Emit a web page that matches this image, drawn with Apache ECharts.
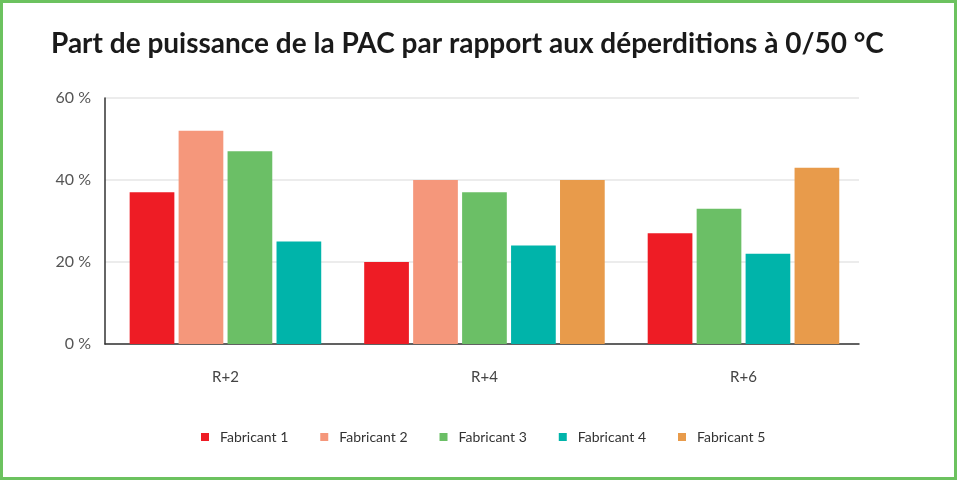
<!DOCTYPE html>
<html>
<head>
<meta charset="utf-8">
<script src="https://cdn.jsdelivr.net/npm/echarts@6/dist/echarts.min.js"></script>
<style>
html,body{margin:0;padding:0;background:#fff;}
#chart{width:957px;height:480px;}
</style>
</head>
<body>
<div id="chart"></div>
<script>
// ---- data ----
const categories = ['R+2', 'R+4', 'R+6'];
const seriesNames = ['Fabricant 1', 'Fabricant 2', 'Fabricant 3', 'Fabricant 4', 'Fabricant 5'];
const fabricant1 = [37, 20, 27];
const fabricant2 = [52, 40, null];
const fabricant3 = [47, 37, 33];
const fabricant4 = [25, 24, 22];
const fabricant5 = [null, 40, 43];
const yTicks = [0, 20, 40, 60];
const colors = ['#ee1c25', '#f5977b', '#6bbf66', '#00b4aa', '#e89b4b'];

const allValues = [fabricant1, fabricant2, fabricant3, fabricant4, fabricant5];

// slot of each bar inside its group (only present bars take a slot)
function slotInfo(seriesIdx, catIdx) {
  let k = 0, n = 0;
  for (let s = 0; s < allValues.length; s++) {
    if (allValues[s][catIdx] != null) {
      if (s < seriesIdx) k++;
      n++;
    }
  }
  return { k, n };
}

const BAR_FRAC = 0.1726;
const STEP_FRAC = 0.189;

const series = allValues.map((vals, si) => ({
  name: seriesNames[si],
  type: 'custom',
  itemStyle: { color: colors[si] },
  data: vals.map((v, ci) => v == null ? null : [ci, v]).filter(d => d != null),
  encode: { x: 0, y: 1 },
  renderItem: function (params, api) {
    const ci = api.value(0);
    const v = api.value(1);
    const info = slotInfo(si, ci);
    const unit = api.size([1, 0])[0];
    const w = unit * BAR_FRAC;
    const step = unit * STEP_FRAC;
    const top = api.coord([ci, v]);
    const base = api.coord([ci, 0]);
    const cx = top[0] + (info.k - (info.n - 1) / 2) * step;
    return {
      type: 'rect',
      shape: { x: cx - w / 2, y: top[1], width: w, height: base[1] - top[1] },
      style: { fill: colors[si] }
    };
  }
}));

const chart = echarts.init(document.getElementById('chart'));
chart.setOption({
  animation: false,
  textStyle: { fontFamily: 'Lato' },
  title: {
    text: 'Part de puissance de la PAC par rapport aux déperditions à 0/50 °C',
    left: 46, top: 25,
    textStyle: { fontFamily: 'Lato', fontWeight: 'bold', fontSize: 28, color: '#1a1a1a' }
  },
  graphic: [{
    type: 'rect', silent: true, z: 100,
    shape: { x: 1.5, y: 1.5, width: 954, height: 477 },
    style: { fill: 'none', stroke: '#6cc25f', lineWidth: 3 }
  }],
  legend: {
    left: 196, top: 425,
    icon: 'rect', itemWidth: 8, itemHeight: 8, itemGap: 32,
    textStyle: { fontFamily: 'Lato', fontSize: 14, color: '#333', padding: [0, 0, 0, 6] },
    data: seriesNames
  },
  grid: { left: 105, right: 98, top: 98, bottom: 136, containLabel: false },
  xAxis: {
    type: 'value',
    min: -0.465, max: 2.446,
    axisLine: { show: true, onZero: false, lineStyle: { color: '#333', width: 1.5 } },
    axisTick: { show: false },
    splitLine: { show: false },
    axisLabel: {
      customValues: [0, 1, 2],
      formatter: v => categories[Math.round(v)],
      margin: 26, fontSize: 15, color: '#444', fontFamily: 'Lato'
    }
  },
  yAxis: {
    type: 'value', min: yTicks[0], max: yTicks[yTicks.length - 1], interval: 20,
    axisLine: { show: true, onZero: false, lineStyle: { color: '#333', width: 1.5 } },
    axisTick: { show: false },
    splitLine: { lineStyle: { color: '#e6e6e6', width: 1.5 } },
    axisLabel: { formatter: v => v + ' %', margin: 14, fontSize: 16, color: '#555', fontFamily: 'Lato' }
  },
  series: series
});
</script>
</body>
</html>
